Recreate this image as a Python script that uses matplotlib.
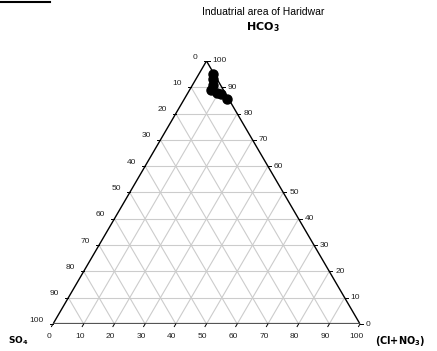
"""
Ternary plot of anions - Industrial area of Haridwar
"""

import numpy as np
import matplotlib.pyplot as plt

plt.rcParams['font.family'] = ['Liberation Sans', 'DejaVu Sans']

# sample composition in percent
hco3 = [95.0, 93.0, 91.0, 89.0, 88.0, 87.5, 85.5]
cl_no3 = [4.5, 5.5, 6.5, 7.0, 9.5, 11.0, 14.0]
so4 = [100 - h - c for h, c in zip(hco3, cl_no3)]

tick_values = [0, 10, 20, 30, 40, 50, 60, 70, 80, 90, 100]

H = np.sqrt(3) / 2


def to_xy(c, h):
    # c = Cl+NO3 fraction, h = HCO3 fraction
    return c + h / 2, h * H


fig = plt.figure(figsize=(4.37, 3.51), dpi=100)
ax = fig.add_axes([53 / 437, 27 / 351, 307 / 437, 263 / 351])
ax.set_xlim(0, 1)
ax.set_ylim(0, H)
ax.axis('off')

# grid lines
grid_kw = dict(color='#cccccc', lw=0.8, zorder=1)
for v in tick_values[1:-1]:
    f = v / 100
    # constant HCO3
    x0, y0 = to_xy(0, f)
    x1, y1 = to_xy(1 - f, f)
    ax.plot([x0, x1], [y0, y1], **grid_kw)
    # constant Cl+NO3
    x0, y0 = to_xy(f, 0)
    x1, y1 = to_xy(f, 1 - f)
    ax.plot([x0, x1], [y0, y1], **grid_kw)
    # constant SO4
    x0, y0 = to_xy(1 - f, 0)
    x1, y1 = to_xy(0, 1 - f)
    ax.plot([x0, x1], [y0, y1], **grid_kw)

# triangle edges
ax.plot([0, 0.5], [0, H], color='black', lw=1.0, zorder=2)
ax.plot([1, 0.5], [0, H], color='black', lw=1.0, zorder=2)
ax.plot([0, 1], [0, 0], color='#555555', lw=1.6, zorder=2)

# ticks and labels (offsets in pixels converted to data units)
px = 1 / 307
tick_len = 3 * px
for v in tick_values:
    f = v / 100
    # bottom axis: Cl+NO3
    x, y = to_xy(f, 0)
    ax.plot([x, x - tick_len / 2], [y, y - tick_len * H], color='black', lw=0.7,
            clip_on=False)
    ax.text(x - 4 * px, y - 13 * px, str(v), ha='center', va='center', fontsize=6,
            color='#222222')
    # left axis: SO4 (0 at top, 100 at bottom-left)
    x, y = to_xy(0, 1 - f)
    ax.plot([x, x - tick_len], [y, y], color='black', lw=0.7, clip_on=False)
    ax.text(x - 9 * px, y + 4 * px, str(v), ha='right', va='center', fontsize=6,
            color='#222222')
    # right axis: HCO3 (0 at bottom-right, 100 at top)
    x, y = to_xy(1 - f, f)
    ax.plot([x, x + tick_len], [y, y], color='black', lw=0.7, clip_on=False)
    ax.text(x + 6 * px, y, str(v), ha='left', va='center', fontsize=6,
            color='#222222')

# samples
xs, ys = to_xy(np.array(cl_no3) / 100, np.array(hco3) / 100)
ax.plot(xs, ys, 'o', color='black', ms=6.5, zorder=5, clip_on=False)

# titles and axis names
fig.text(263 / 437, 1 - 12 / 351, 'Induatrial area of Haridwar', ha='center',
         va='center', fontsize=7.5)
fig.text(263 / 437, 1 - 27 / 351, r'$\mathbf{HCO_3}$', ha='center', va='center',
         fontsize=8, math_fontfamily='dejavusans')
fig.text(18 / 437, 1 - 341 / 351, r'$\mathbf{SO_4}$', ha='center', va='center',
         fontsize=6.5, math_fontfamily='dejavusans')
fig.text(400 / 437, 1 - 341 / 351, r'$\mathbf{(Cl{+}NO_3)}$', ha='center',
         va='center', fontsize=7, math_fontfamily='dejavusans')

# short rule at top-left
fig.add_artist(plt.Line2D([0, 50 / 437], [1 - 2 / 351, 1 - 2 / 351], color='black',
                          lw=1.5))

plt.savefig('out.png', dpi=100)
